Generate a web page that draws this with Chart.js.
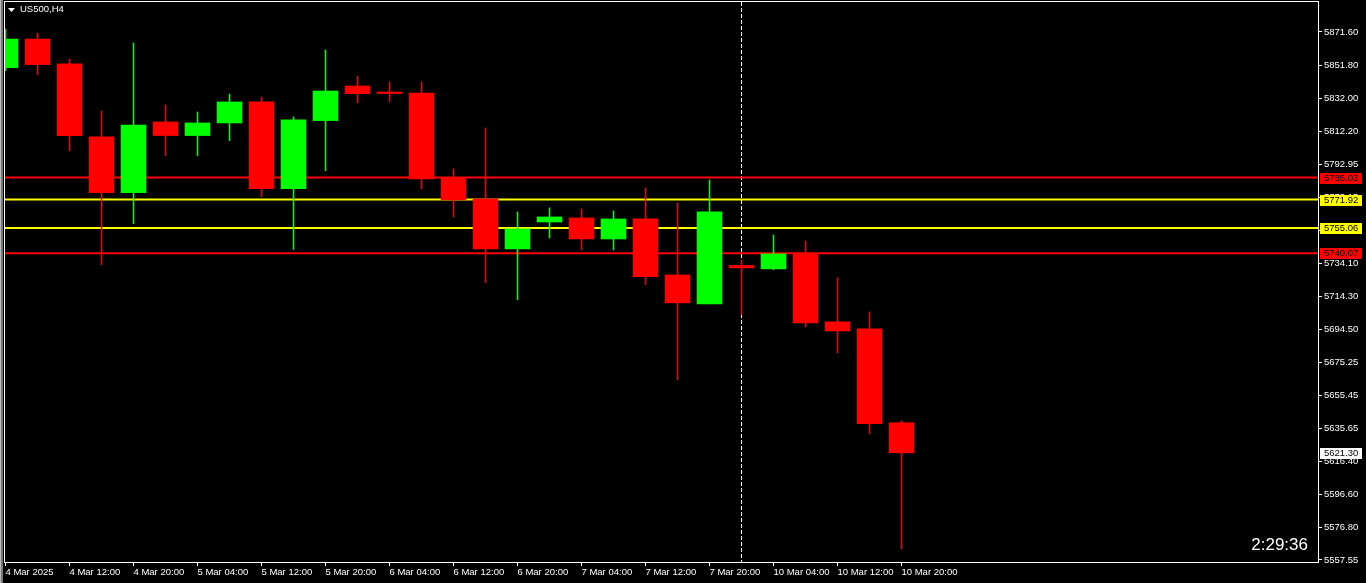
<!DOCTYPE html>
<html>
<head>
<meta charset="utf-8">
<script src="https://cdn.jsdelivr.net/npm/chart.js@4.4.1/dist/chart.umd.min.js"></script>
<style>
  html, body { margin: 0; padding: 0; background: #000; overflow: hidden; }
  canvas { display: block; }
</style>
</head>
<body>
<canvas id="chart" width="1366" height="583"></canvas>
<script>
// US500 H4 bars (index 0 = first bar of 4 Mar 2025)
const opens  = [5850.4, 5867.4, 5852.6, 5809.2, 5776.1, 5818.1, 5810.0, 5817.5, 5830.0, 5778.4,
                5818.9, 5839.5, 5835.9, 5835.3, 5784.8, 5772.3, 5742.6, 5758.6, 5761.0, 5748.5,
                5760.4, 5727.1, 5709.9, 5732.7, 5730.7, 5739.6, 5699.2, 5695.0, 5639.2];
const highs  = [5873.4, 5871.0, 5855.5, 5824.6, 5865.1, 5828.2, 5824.0, 5834.7, 5833.0, 5821.1,
                5860.9, 5845.4, 5841.9, 5841.9, 5790.2, 5814.5, 5764.6, 5767.0, 5766.4, 5765.2,
                5778.9, 5769.9, 5783.6, 5736.0, 5750.9, 5747.3, 5725.4, 5705.1, 5640.4];
const lows   = [5848.6, 5846.2, 5801.0, 5733.3, 5757.6, 5798.1, 5798.1, 5807.0, 5773.7, 5742.2,
                5789.1, 5829.6, 5830.2, 5778.4, 5761.6, 5722.4, 5712.3, 5749.1, 5742.0, 5742.0,
                5721.4, 5664.7, 5709.9, 5703.4, 5730.2, 5696.2, 5680.8, 5632.6, 5564.2];
const closes = [5867.4, 5852.2, 5810.0, 5776.1, 5816.3, 5810.0, 5817.5, 5830.0, 5778.4, 5819.3,
                5836.5, 5834.9, 5835.0, 5784.2, 5771.7, 5742.6, 5754.5, 5761.6, 5748.5, 5760.4,
                5726.1, 5710.5, 5764.6, 5731.3, 5739.6, 5698.6, 5693.8, 5638.6, 5621.3];

// time axis: a label every second bar
const timeTicks  = [0, 2, 4, 6, 8, 10, 12, 14, 16, 18, 20, 22, 24, 26, 28];
const timeLabels = ['4 Mar 2025', '4 Mar 12:00', '4 Mar 20:00', '5 Mar 04:00', '5 Mar 12:00',
                    '5 Mar 20:00', '6 Mar 04:00', '6 Mar 12:00', '6 Mar 20:00', '7 Mar 04:00',
                    '7 Mar 12:00', '7 Mar 20:00', '10 Mar 04:00', '10 Mar 12:00', '10 Mar 20:00'];

// price axis labels as the terminal prints them
const priceTicks = [5871.60, 5851.80, 5832.00, 5812.20, 5792.95, 5773.15, 5753.35, 5734.10, 5714.30,
                    5694.50, 5675.25, 5655.45, 5635.65, 5616.40, 5596.60, 5576.80, 5557.55];

// horizontal levels drawn on the chart
const levelPrices = [5785.03, 5771.92, 5755.06, 5740.07];
const levelColors = ['#ff0000', '#ffff00', '#ffff00', '#ff0000'];

const separatorBar = 23;          // dashed vertical line
const symbolTitle = 'US500,H4';
const timerText = '2:29:36';

// ---- view window ----
const BAR_PX = 32;
const X_MIN = -1 / 64;
const X_MAX = X_MIN + 1313 / BAR_PX;
const Y_MIN = 5556.36, Y_MAX = 5889.44;
const UP = '#00ff00', DOWN = '#ff0000';
const FONT = 'Liberation Sans';

const barIdx = closes.map((_, i) => i);
const barColor = barIdx.map((i) => (closes[i] >= opens[i] ? UP : DOWN));

const levelSets = levelPrices.map((v, i) => ({
  type: 'line',
  data: [{ x: X_MIN, y: v }, { x: X_MAX, y: v }],
  borderColor: levelColors[i], borderWidth: 2, pointRadius: 0, order: 5,
}));

const overlay = {
  id: 'overlay',
  beforeDraw(chart) {
    const ctx = chart.ctx;
    ctx.save(); ctx.fillStyle = '#000'; ctx.fillRect(0, 0, chart.width, chart.height); ctx.restore();
  },
  beforeDatasetsDraw(chart) {
    const { ctx, chartArea: a, scales: { x } } = chart;
    const sx = Math.floor(x.getPixelForValue(separatorBar)) + 0.5;
    ctx.save();
    ctx.strokeStyle = '#fff'; ctx.lineWidth = 1; ctx.setLineDash([4, 2]);
    ctx.beginPath(); ctx.moveTo(sx, a.top); ctx.lineTo(sx, a.bottom); ctx.stroke();
    ctx.restore();
  },
  afterDatasetsDraw(chart) {
    const { ctx, chartArea: a } = chart;
    ctx.save();
    ctx.strokeStyle = '#fff'; ctx.lineWidth = 1;
    ctx.strokeRect(a.left - 0.5, a.top - 0.5, a.right - a.left + 1, a.bottom - a.top + 1);
    ctx.restore();
  },
  afterDraw(chart) {
    const { ctx, chartArea: a, scales: { y } } = chart;
    ctx.save();
    // window edge on the far left
    ctx.fillStyle = '#b8b8b8'; ctx.fillRect(0, 0, 1, chart.height);
    ctx.fillStyle = '#7a7a7a'; ctx.fillRect(1, 0, 2, chart.height);

    // price tags on the right axis
    ctx.font = `9.5px "${FONT}"`; ctx.textBaseline = 'middle'; ctx.textAlign = 'left';
    const tag = (v, bg) => {
      const py = Math.round(y.getPixelForValue(v));
      ctx.fillStyle = bg; ctx.fillRect(a.right + 2, py - 5, 42, 11);
      ctx.fillStyle = '#000'; ctx.fillText(v.toFixed(2), a.right + 6, py + 0.5);
    };
    levelPrices.forEach((v, i) => tag(v, levelColors[i]));
    tag(closes[closes.length - 1], '#fff');

    // symbol title
    ctx.fillStyle = '#fff';
    ctx.beginPath(); ctx.moveTo(8, 8); ctx.lineTo(15, 8); ctx.lineTo(11.5, 12); ctx.closePath(); ctx.fill();
    ctx.fillText(symbolTitle, 20, 9.5);

    // bar timer
    ctx.font = `17px "${FONT}"`; ctx.textAlign = 'right'; ctx.textBaseline = 'alphabetic';
    ctx.fillText(timerText, a.right - 10, 549.5);
    ctx.restore();
  },
};

new Chart(document.getElementById('chart'), {
  type: 'bar',
  data: {
    datasets: [
      { label: 'wick', data: barIdx.map((i) => ({ x: i, y: [lows[i], highs[i]] })),
        backgroundColor: barColor, barThickness: 1, grouped: false, clip: 0, order: 2 },
      { label: 'body', data: barIdx.map((i) => ({ x: i, y: [opens[i], closes[i]] })),
        backgroundColor: barColor, barThickness: 25, grouped: false, clip: 0, order: 1 },
      ...levelSets,
    ],
  },
  options: {
    responsive: false, animation: false, events: [],
    layout: { padding: { left: 5, top: 2, right: 0, bottom: 0 } },
    plugins: { legend: { display: false }, tooltip: { enabled: false } },
    scales: {
      x: {
        type: 'linear', min: X_MIN, max: X_MAX, offset: false,
        grid: { display: true, offset: false, drawOnChartArea: false, drawTicks: true, tickLength: 4, color: '#fff' },
        border: { display: false },
        ticks: { color: '#fff', font: { family: FONT, size: 9.5 }, autoSkip: false, maxRotation: 0, minRotation: 0,
                 align: 'start', padding: 1, callback: (v, i) => timeLabels[i] },
        afterBuildTicks: (s) => { s.ticks = timeTicks.map((v) => ({ value: v })); },
        afterFit: (s) => { s.height = 21; s.paddingLeft = 0; s.paddingRight = 0; },
      },
      y: {
        position: 'right', min: Y_MIN, max: Y_MAX,
        grid: { display: true, drawOnChartArea: false, drawTicks: true, tickLength: 4, color: '#fff' },
        border: { display: false },
        ticks: { color: '#fff', font: { family: FONT, size: 9.5 }, autoSkip: false, padding: 2,
                 callback: (v) => v.toFixed(2) },
        afterBuildTicks: (s) => { s.ticks = priceTicks.map((v) => ({ value: v })); },
        afterFit: (s) => { s.width = 48; s.paddingTop = 0; s.paddingBottom = 0; },
      },
    },
  },
  plugins: [overlay],
});
</script>
</body>
</html>
